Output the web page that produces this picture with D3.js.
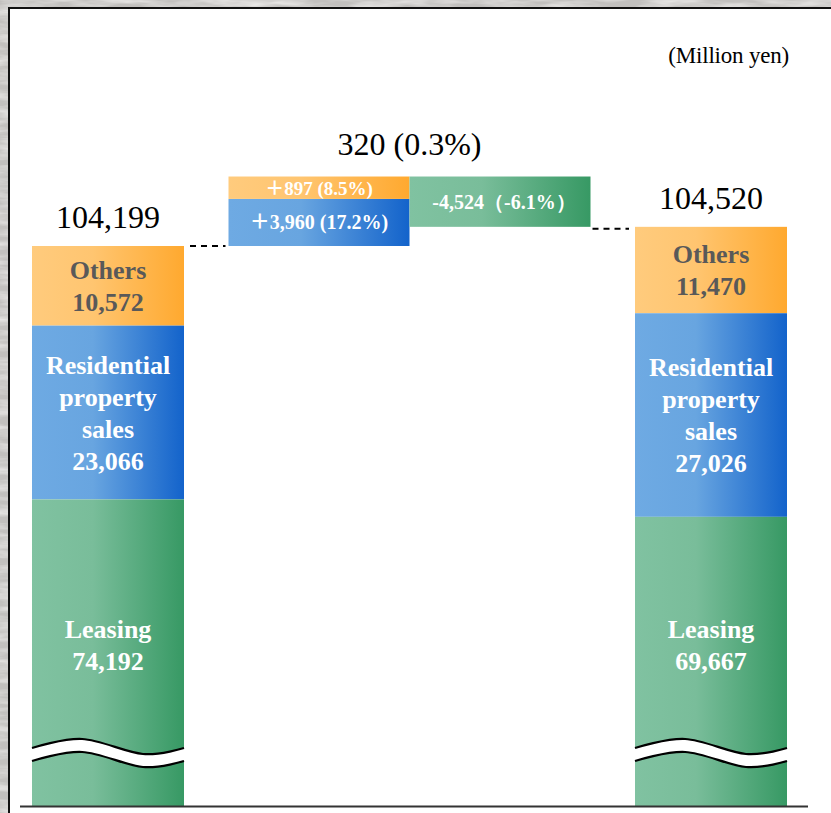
<!DOCTYPE html>
<html>
<head>
<meta charset="utf-8">
<script src="https://cdn.jsdelivr.net/npm/d3@7"></script>
<style>
  html, body { margin: 0; padding: 0; background: #c6c4c2; }
  svg { display: block; }
</style>
</head>
<body>
<div id="chart"></div>
<script>
// ---- data (million yen) ----
var columns = ["prev", "change", "cur"];
var segments = ["Leasing", "Residential property sales", "Others"];
var segLines = [["Leasing"], ["Residential", "property", "sales"], ["Others"]];
var prevValues = [74192, 23066, 10572];
var curValues = [69667, 27026, 11470];
var totals = [104199, 104520];
var deltaSegs = ["Residential property sales", "Others", "Leasing"];
var deltaValues = [3960, 897, -4524];
var deltaPcts = [17.2, 8.5, -6.1];
var totalChange = 320, totalPct = 0.3;
var unitLabel = "(Million yen)";

var W = 831, H = 813;
var fmt = d3.format(",");
var serif = "'Liberation Serif', 'Times New Roman', serif";

var colors = {
  "Others": ["#ffcb7d", "#ffc570", "#ffa92f"],
  "Residential property sales": ["#6eaae3", "#68a5e0", "#1363cb"],
  "Leasing": ["#80c2a1", "#79bd9a", "#379964"]
};
var textColor = { "Others": "#595959", "Residential property sales": "#fff", "Leasing": "#fff" };

var svg = d3.select("#chart").append("svg")
    .attr("width", W).attr("height", H);

var defs = svg.append("defs");

// marble-ish background
var f = defs.append("filter").attr("id", "marble")
    .attr("x", 0).attr("y", 0).attr("width", 1).attr("height", 1);
f.append("feTurbulence").attr("type", "fractalNoise")
    .attr("baseFrequency", "0.02 0.12").attr("numOctaves", 4).attr("seed", 3);
f.append("feColorMatrix").attr("type", "matrix")
    .attr("values", "0 0 0 0 0.93  0 0 0 0 0.92  0 0 0 0 0.91  0 0 0 1.6 -0.6");
svg.append("rect").attr("width", W).attr("height", H).attr("fill", "#c2c0be");
svg.append("rect").attr("width", W).attr("height", H).attr("filter", "url(#marble)");

// gradients
Object.keys(colors).forEach(function (k, i) {
  var g = defs.append("linearGradient").attr("id", "grad" + i)
      .attr("x1", "0%").attr("x2", "100%").attr("y1", "0%").attr("y2", "0%");
  g.append("stop").attr("offset", "0%").attr("stop-color", colors[k][0]);
  g.append("stop").attr("offset", "40%").attr("stop-color", colors[k][1]);
  g.append("stop").attr("offset", "100%").attr("stop-color", colors[k][2]);
  colors[k].fill = "url(#grad" + i + ")";
});

// white panel
svg.append("rect").attr("x", 9).attr("y", 8).attr("width", W).attr("height", H)
    .attr("fill", "#fff");
svg.append("path").attr("d", "M9," + H + "V8H" + W)
    .attr("fill", "none").attr("stroke", "#111").attr("stroke-width", 2);

svg.append("text").attr("x", 789).attr("y", 63).attr("text-anchor", "end")
    .style("font-family", serif).style("font-size", "23px").style("letter-spacing", "-0.2px")
    .text(unitLabel);

// ---- scales ----
var baseY = 806, levelY = 246;
var x = d3.scalePoint().domain(columns).range([108, 711]);
var barW = 152, stepW = 181;
var hSeg = d3.scaleLinear().domain([0, 30000]).range([0, 226]);   // stacked segment heights
var hDelta = d3.scaleSqrt().domain([0, 5000]).range([0, 52.9]);   // waterfall step heights

// waterfall steps
var steps = [];
var yCur = levelY;
deltaValues.forEach(function (v, i) {
  var h = hDelta(Math.abs(v));
  var s = { seg: deltaSegs[i], value: v, pct: deltaPcts[i], h: h };
  if (v >= 0) { s.y0 = yCur - h; s.y1 = yCur; yCur -= h; }
  else { s.y0 = yCur; s.y1 = yCur + h; yCur += h; }
  s.x0 = v >= 0 ? x("change") - stepW : x("change");
  steps.push(s);
});
var endY = yCur;

// stacked bars, from top down
function stackBar(values, topY, col) {
  var out = [], y = topY;
  for (var i = values.length - 1; i >= 0; i--) {
    var h = i === 0 ? baseY - y : hSeg(values[i]);
    out.push({ seg: segments[i], lines: segLines[i], value: values[i], y0: y, y1: y + h, col: col });
    y += h;
  }
  return out;
}
var bars = stackBar(prevValues, levelY, "prev").concat(stackBar(curValues, endY, "cur"));

var gBars = svg.append("g");
gBars.selectAll("rect").data(bars).join("rect")
    .attr("x", function (d) { return x(d.col) - barW / 2; })
    .attr("y", function (d) { return d.y0; })
    .attr("width", barW)
    .attr("height", function (d) { return d.y1 - d.y0; })
    .attr("fill", function (d) { return colors[d.seg].fill; });

// segment labels
bars.forEach(function (d) {
  var cy = d.seg === "Leasing" ? baseY - 161 : (d.y0 + d.y1) / 2;
  var lines = d.lines.concat([fmt(d.value)]);
  var lh = 32;
  gBars.append("text")
      .attr("text-anchor", "middle")
      .style("font-family", serif).style("font-weight", "bold").style("font-size", "26px")
      .attr("fill", textColor[d.seg])
      .selectAll("tspan").data(lines).join("tspan")
      .attr("x", x(d.col))
      .attr("y", function (t, i) { return cy + (i - (lines.length - 1) / 2) * lh + 9; })
      .text(function (t) { return t; });
});

// axis break
var wave = d3.line().curve(d3.curveCardinal);
var breakY = baseY - 58;
["prev", "cur"].forEach(function (c) {
  var x0 = x(c) - barW / 2;
  var pts = [[0, 0], [0.33, -9], [0.73, 6], [1, 0]];
  var up = pts.map(function (p) { return [x0 + p[0] * barW, breakY + p[1]]; });
  var lo = pts.map(function (p) { return [x0 + p[0] * barW, breakY + 13 + p[1]]; });
  var gb = svg.append("g");
  gb.append("path")
      .attr("d", wave(up) + "L" + wave(lo.slice().reverse()).slice(1) + "Z")
      .attr("fill", "#fff");
  gb.selectAll(".w").data([up, lo]).join("path")
      .attr("d", wave).attr("fill", "none").attr("stroke", "#000").attr("stroke-width", 2.2);
});

// waterfall rects
var gSteps = svg.append("g");
gSteps.selectAll("rect").data(steps).join("rect")
    .attr("x", function (d) { return d.x0; })
    .attr("y", function (d) { return d.y0; })
    .attr("width", stepW)
    .attr("height", function (d) { return d.h; })
    .attr("fill", function (d) { return colors[d.seg].fill; });
var stepText = gSteps.selectAll("text").data(steps).join("text")
    .attr("x", function (d) { return d.x0 + stepW / 2 + (d.value < 0 ? 4 : 0); })
    .attr("y", function (d) { return (d.y0 + d.y1) / 2 + 7; })
    .attr("text-anchor", "middle")
    .attr("fill", "#fff")
    .style("font-family", serif).style("font-weight", "bold")
    .style("font-size", function (d) { return d.h < 30 ? "19px" : "20px"; });
stepText.filter(function (d) { return d.value >= 0; })
    .append("tspan").style("font-family", "'Noto Sans CJK JP', sans-serif")
    .style("font-weight", "bold").text("\uff0b");
stepText.append("tspan")
    .text(function (d) {
      if (d.value >= 0) return fmt(d.value) + " (" + d.pct + "%)";
      return "-" + fmt(-d.value) + "\uff08" + d.pct + "%\uff09";
    });

// connectors
var dash = svg.append("g").attr("stroke", "#000").attr("stroke-width", 2)
    .attr("stroke-dasharray", "6,5");
dash.append("line")
    .attr("x1", x("prev") + barW / 2 + 6).attr("x2", x("change") - stepW - 3)
    .attr("y1", levelY).attr("y2", levelY);
dash.append("line")
    .attr("x1", x("change") + stepW + 2).attr("x2", x("cur") - barW / 2 - 6)
    .attr("y1", endY + 2).attr("y2", endY + 2);

// totals
var tot = svg.append("g").style("font-family", serif).style("font-size", "32px")
    .attr("text-anchor", "middle").attr("fill", "#000");
tot.append("text").attr("x", x("prev")).attr("y", levelY - 18).text(fmt(totals[0]));
tot.append("text").attr("x", x("cur")).attr("y", endY - 18).text(fmt(totals[1]));
tot.append("text").attr("x", x("change")).attr("y", d3.min(steps, function (d) { return d.y0; }) - 22)
    .text(fmt(totalChange) + " (" + totalPct + "%)");

// baseline
svg.append("line").attr("x1", 20).attr("x2", 808).attr("y1", baseY + 0.5).attr("y2", baseY + 0.5)
    .attr("stroke", "#333").attr("stroke-width", 2.2);
</script>
</body>
</html>
